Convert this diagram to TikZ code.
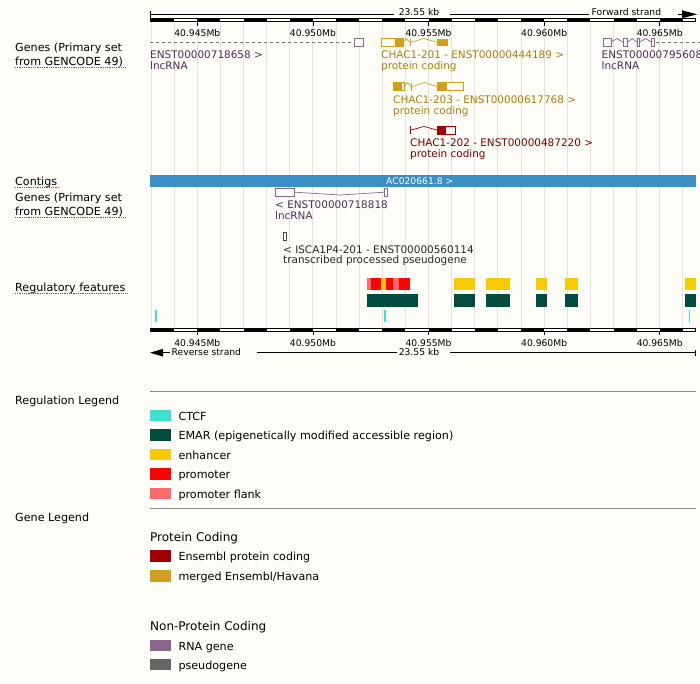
\documentclass[tikz,border=0pt]{standalone}
\usepackage{fontspec}
\setmainfont{DejaVu Sans}
\usetikzlibrary{positioning, calc}
\definecolor{bgivory}{HTML}{FFFDF7}
\definecolor{gridgrey}{HTML}{E2E2E2}
\definecolor{contigblue}{HTML}{3A8FC9}
\definecolor{ctcf}{HTML}{40E0D0}
\definecolor{emar}{HTML}{004D40}
\definecolor{enhancer}{HTML}{FACA00}
\definecolor{promoter}{HTML}{FF0000}
\definecolor{pflank}{HTML}{FF6B6B}
\definecolor{enspc}{HTML}{A00000}
\definecolor{merged}{HTML}{D1A020}
\definecolor{rnagene}{HTML}{8B668B}
\definecolor{pseudo}{HTML}{666666}
\definecolor{mergedtxt}{HTML}{B07C0C}
\definecolor{enstxt}{HTML}{7A0000}
\definecolor{lnctxt}{HTML}{4F2D55}
\definecolor{linkblue}{HTML}{3366AA}
\definecolor{rulegrey}{HTML}{8C8C8C}
\tikzset{%
	sidelbl/.style={inner sep=0pt, anchor=base west, font=\fontsize{11.15}{12}\selectfont},
	tracklbl/.style={inner sep=0pt, anchor=base west, font=\fontsize{10.45}{12}\selectfont},
	scalelbl/.style={inner sep=0pt, anchor=base, font=\fontsize{9.2}{10}\selectfont},
	legendhdr/.style={inner sep=0pt, anchor=base west, font=\fontsize{12}{14}\selectfont},
	dotline/.style={linkblue, densely dotted, line width=0.8pt},
	exon/.style={line width=0.9pt, fill=bgivory},
	intron/.style={line width=0.7pt},
	swatch/.style={minimum width=21pt, minimum height=11.7pt, inner sep=0pt, anchor=north west}
}
% hat shaped intron: colour, start, end, middle y, peak y
\newcommand{\intronhat}[5]{\draw[#1, intron] (#2,#4) -- ({(#2+#3)/2},#5) -- (#3,#4);}

\begin{document}
\begin{tikzpicture}[x=1pt, y=-1pt]
	\useasboundingbox[fill=bgivory] (0,0) rectangle (700,683);
	
	% grid lines, one per kb
	\foreach \i in {0,...,23}{
		\pgfmathsetmacro\gx{151.1+23.12*\i}
		\draw[gridgrey, line width=1pt] (\gx,22) -- (\gx,328);
	}
	
	% contig
	\fill[contigblue] (150,175) rectangle (696,186.7);
	\node[inner sep=0pt, anchor=base west, white, font=\fontsize{9.2}{10}\selectfont] (contig) at (386,184.5) {AC020661.8 >};
	
	% forward strand genes
	\draw[rnagene, intron, dash pattern=on 3pt off 3pt] (150,42.2) -- (354,42.2);
	\draw[rnagene, exon] (354,38.5) rectangle (363.5,46);
	
	\draw[merged, exon] (381,38.5) rectangle (403,46);
	\fill[merged] (395,38.5) rectangle (403,46);
	\intronhat{merged}{403}{409.7}{42.2}{38.5}
	\draw[merged, line width=1.2pt] (410.3,38.5) -- (410.3,46);
	\intronhat{merged}{411}{437}{42.2}{38.5}
	\fill[merged] (437,38.5) rectangle (448,46);
	
	\draw[rnagene, exon] (603,38.5) rectangle (611,46);
	\intronhat{rnagene}{611}{623}{42.2}{38.5}
	\draw[rnagene, exon] (623,38.5) rectangle (627.5,46);
	\intronhat{rnagene}{627.5}{637}{42.2}{38.5}
	\draw[rnagene, exon] (637,38.5) rectangle (639.5,46);
	\intronhat{rnagene}{639.5}{651.5}{42.2}{38.5}
	\draw[rnagene, exon] (651.5,38.5) rectangle (654.5,46);
	\draw[rnagene, intron, dash pattern=on 3pt off 3pt] (656,42.2) -- (700,42.2);
	
	\draw[merged, exon] (393.5,82.5) rectangle (404,90.5);
	\fill[merged] (393.5,82.5) rectangle (401.7,90.5);
	\intronhat{merged}{404}{411}{86.5}{82.5}
	\draw[merged, line width=1.2pt] (411.7,82.5) -- (411.7,90.5);
	\intronhat{merged}{412.3}{437}{86.5}{82.5}
	\draw[merged, exon] (437,82.5) rectangle (463.5,90.5);
	\fill[merged] (437,82.5) rectangle (447,90.5);
	
	\draw[enspc, line width=1.2pt] (410.7,126) -- (410.7,134);
	\intronhat{enspc}{411}{437}{130}{126.5}
	\draw[enspc, exon] (437,126) rectangle (455.7,134);
	\fill[enspc] (437,126) rectangle (446,134);
	
	% reverse strand genes
	\draw[rnagene, exon] (275,188.3) rectangle (294.7,196);
	\draw[rnagene, intron] (294.7,192.2) -- (340,195) -- (384.5,192.2);
	\draw[rnagene, exon] (384.5,188.3) rectangle (387.5,196);
	\draw[pseudo!70!black, exon] (283.3,232.3) rectangle (286.7,240);
	
	% regulatory features
	\foreach \c/\a/\b in {pflank/366.7/371, promoter/371/381, enhancer/381/385.7,
		promoter/385.7/392.7, pflank/392.7/399, promoter/399/410,
		enhancer/454/475, enhancer/486/510, enhancer/536/547, enhancer/565/578, enhancer/685/695.5}
		\fill[\c] (\a,277.7) rectangle (\b,290);
	\foreach \a/\b in {366.7/417.7, 454/475, 486/510, 536/547, 565/578, 685/695.5}
		\fill[emar] (\a,294) rectangle (\b,306.7);
	\foreach \a in {156, 385, 689.3}
		\draw[ctcf, line width=1.1pt] (\a,310) -- (\a,322.3);
	
	% top scale bar
	\fill (150,18) rectangle (696,22);
	\foreach \k in {1,3,...,23}{
		\pgfmathsetmacro\xa{151.1+23.12*\k}
		\pgfmathsetmacro\xb{min(151.1+23.12*(\k+1),695)}
		\fill[white] (\xa,19) rectangle (\xb,21);
	}
	\draw[line width=0.8pt] (150,11) -- (150,18);
	\node[scalelbl] (kbtop) at (419,15) {23.55 kb};
	\node[inner sep=0pt, anchor=base west, font=\fontsize{9.2}{10}\selectfont] (fwd) at (591.5,15) {Forward strand};
	\draw[line width=0.8pt] (150,14.3) -- (393.5,14.3);
	\draw[line width=0.8pt] (450,14.3) -- (588.5,14.3);
	\draw[line width=0.8pt] (678,14.3) -- (684,14.3);
	\fill (682,10.3) -- (697,14.3) -- (682,18.3) -- cycle;
	
	% bottom scale bar
	\fill (150,328.3) rectangle (696,331.7);
	\foreach \k in {1,3,...,23}{
		\pgfmathsetmacro\xa{151.1+23.12*\k}
		\pgfmathsetmacro\xb{min(151.1+23.12*(\k+1),695)}
		\fill[white] (\xa,329.3) rectangle (\xb,330.7);
	}
	\foreach \i/\mb in {2/945, 7/950, 12/955, 17/960, 22/965}{
		\pgfmathsetmacro\gx{151.1+23.12*\i}
		\draw[line width=0.8pt] (\gx,22) -- (\gx,26);
		\node[scalelbl] (top\mb) at (\gx,36.7) {40.\mb Mb};
		\draw[line width=0.8pt] (\gx,331.7) -- (\gx,335);
		\node[scalelbl] (bot\mb) at (\gx,346) {40.\mb Mb};
	}
	\fill (150,352.7) -- (163,348.8) -- (163,356.6) -- cycle;
	\draw[line width=0.8pt] (162,352.7) -- (170,352.7);
	\node[inner sep=0pt, anchor=base west, font=\fontsize{9.2}{10}\selectfont] (rev) at (171.5,355) {Reverse strand};
	\node[scalelbl] (kbbot) at (419,355) {23.55 kb};
	\draw[line width=0.8pt] (256.7,352.7) -- (396.7,352.7);
	\draw[line width=0.8pt] (450,352.7) -- (695.5,352.7);
	\draw[line width=0.8pt] (695.5,349.5) -- (695.5,356);
	
	% track labels
	\node[tracklbl, lnctxt] (t718658) at (150,58.3) {ENST00000718658 >};
	\node[tracklbl, lnctxt] (t718658b) at ([yshift=-11pt]t718658.base west) {lncRNA};
	\node[tracklbl, mergedtxt] (chac201) at (381,58.3) {CHAC1-201 - ENST00000444189 >};
	\node[tracklbl, mergedtxt] (chac201b) at ([yshift=-11pt]chac201.base west) {protein coding};
	\node[tracklbl, lnctxt] (t795608) at (601.5,58.3) {ENST00000795608 >};
	\node[tracklbl, lnctxt] (t795608b) at ([yshift=-11pt]t795608.base west) {lncRNA};
	\node[tracklbl, mergedtxt] (chac203) at (393,103.3) {CHAC1-203 - ENST00000617768 >};
	\node[tracklbl, mergedtxt] (chac203b) at ([yshift=-11pt]chac203.base west) {protein coding};
	\node[tracklbl, enstxt] (chac202) at (410,146.7) {CHAC1-202 - ENST00000487220 >};
	\node[tracklbl, enstxt] (chac202b) at ([yshift=-11pt]chac202.base west) {protein coding};
	\node[tracklbl, lnctxt] (t718818) at (275,208.3) {< ENST00000718818};
	\node[tracklbl, lnctxt] (t718818b) at ([yshift=-11pt]t718818.base west) {lncRNA};
	\node[tracklbl, black!85] (isca) at (283,253.3) {< ISCA1P4-201 - ENST00000560114};
	\node[tracklbl, black!85] (iscab) at ([yshift=-10.5pt]isca.base west) {transcribed processed pseudogene};
	
	% side labels
	\node[sidelbl] (genesA) at (15,51.7) {Genes (Primary set};
	\node[sidelbl] (genesB) at (15,65) {from GENCODE 49)};
	\node[sidelbl] (contigs) at (15,185) {Contigs};
	\node[sidelbl] (genesC) at (15,201.7) {Genes (Primary set};
	\node[sidelbl] (genesD) at (15,215) {from GENCODE 49)};
	\node[sidelbl] (regfeat) at (15,291) {Regulatory features};
	\node[sidelbl] (regleg) at (15,404) {Regulation Legend};
	\node[sidelbl] (geneleg) at (15,521) {Gene Legend};
	\foreach \n in {genesB, contigs, genesD, regfeat}
		\draw[dotline] ([yshift=-2pt]\n.base west) -- ([yshift=-2pt,xshift=2pt]\n.base east);
	
	% legends
	\draw[rulegrey, line width=1pt] (150,391.5) -- (696,391.5);
	\draw[rulegrey, line width=1pt] (150,508) -- (696,508);
	\foreach \c/\t [count=\n] in {ctcf/CTCF, emar/EMAR (epigenetically modified accessible region),
		enhancer/enhancer, promoter/promoter, pflank/promoter flank}{
		\pgfmathsetmacro\sy{409.3+19.5*(\n-1)}
		\node[swatch, fill=\c] (regsw\n) at (150,\sy) {};
		\node[sidelbl] (regtx\n) at (178.3,\sy+10.7) {\t};
	}
	\node[legendhdr] (pchdr) at (150,541.7) {Protein Coding};
	\node[legendhdr] (npchdr) at (150,630) {Non-Protein Coding};
	\foreach \c/\t/\sy [count=\n] in {enspc/Ensembl protein coding/550, merged/{merged Ensembl/Havana}/570,
		rnagene/RNA gene/639.3, pseudo/pseudogene/658.3}{
		\node[swatch, fill=\c] (genesw\n) at (150,\sy) {};
		\node[sidelbl] (genetx\n) at (178.3,\sy+10.7) {\t};
	}
\end{tikzpicture}
\end{document}
